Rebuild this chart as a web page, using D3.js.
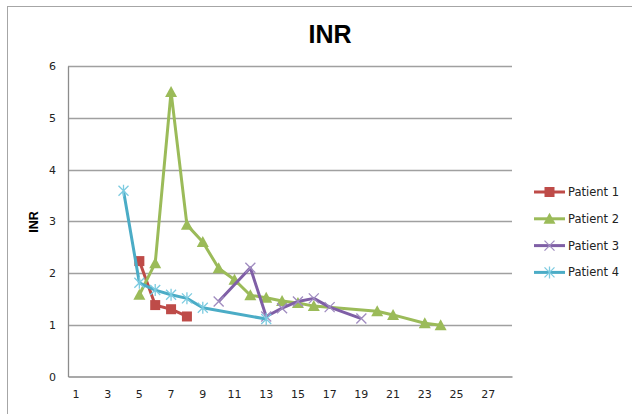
<!DOCTYPE html>
<html>
<head>
<meta charset="utf-8">
<script src="https://cdn.jsdelivr.net/npm/d3@7"></script>
<style>
  body { margin: 0; background: #fff; }
  svg { display: block; }
</style>
</head>
<body>
<div id="chart"></div>
<script>
const days = [1, 2, 3, 4, 5, 6, 7, 8, 9, 10, 11, 12, 13, 14, 15, 16, 17, 18, 19, 20, 21, 22, 23, 24, 25, 26, 27, 28];
const dayLabels = [1, 3, 5, 7, 9, 11, 13, 15, 17, 19, 21, 23, 25, 27];
const inrTicks = [0, 1, 2, 3, 4, 5, 6];

const patient1Days = [5, 6, 7, 8];
const patient1Inr = [2.23, 1.38, 1.30, 1.16];
const patient2Days = [5, 6, 7, 8, 9, 10, 11, 12, 13, 14, 15, 16, 20, 21, 23, 24];
const patient2Inr = [1.58, 2.19, 5.5, 2.93, 2.6, 2.09, 1.87, 1.57, 1.52, 1.46, 1.42, 1.36, 1.26, 1.19, 1.03, 0.99];
const patient3Days = [10, 12, 13, 14, 15, 16, 17, 19];
const patient3Inr = [1.45, 2.1, 1.16, 1.32, 1.45, 1.51, 1.34, 1.12];
const patient4Days = [4, 5, 6, 7, 8, 9, 13];
const patient4Inr = [3.59, 1.81, 1.67, 1.58, 1.51, 1.33, 1.11];

const seriesNames = ["Patient 1", "Patient 2", "Patient 3", "Patient 4"];

const width = 632, height = 414;
const plot = { left: 68, right: 512, top: 66, bottom: 376.5 };

const series = [
  { name: seriesNames[0], color: "#BE4B48", marker: "square", days: patient1Days, inr: patient1Inr },
  { name: seriesNames[1], color: "#9BBB59", marker: "triangle", days: patient2Days, inr: patient2Inr },
  { name: seriesNames[2], color: "#7F5FA6", marker: "cross", days: patient3Days, inr: patient3Inr },
  { name: seriesNames[3], color: "#4BACC6", marker: "star", days: patient4Days, inr: patient4Inr }
];

const svg = d3.select("#chart").append("svg")
  .attr("width", width)
  .attr("height", height);

// chart area border
svg.append("rect")
  .attr("x", 7.5).attr("y", 6.5)
  .attr("width", 700).attr("height", 500)
  .attr("fill", "#fff")
  .attr("stroke", "#A6A6A6");

const x = d3.scaleBand().domain(days).range([plot.left, plot.right]);
const y = d3.scaleLinear().domain([0, 6]).range([plot.bottom, plot.top]);

// gridlines
svg.append("g")
  .selectAll("line")
  .data(inrTicks.filter(d => d > 0))
  .enter()
  .append("line")
  .attr("x1", plot.left).attr("x2", plot.right)
  .attr("y1", d => Math.round(y(d)) + 0.5).attr("y2", d => Math.round(y(d)) + 0.5)
  .attr("stroke", "#A0A0A0")
  .attr("stroke-width", 1.3);

// axes
const yAxis = svg.append("g")
  .attr("transform", `translate(${plot.left},0)`)
  .call(d3.axisLeft(y).tickValues(inrTicks).tickSize(0).tickPadding(12).tickFormat(d3.format("d")));
yAxis.select(".domain").attr("stroke", "#8C8C8C").attr("stroke-width", 1.3);
yAxis.selectAll("text").attr("font-family", "DejaVu Sans").attr("font-size", 11).attr("fill", "#222");

const xAxis = svg.append("g")
  .attr("transform", `translate(0,${plot.bottom})`)
  .call(d3.axisBottom(x).tickValues(dayLabels).tickSize(0).tickPadding(14));
xAxis.select(".domain").attr("stroke", "#8C8C8C").attr("stroke-width", 1.3);
xAxis.selectAll("text").attr("font-family", "DejaVu Sans").attr("font-size", 11).attr("fill", "#222");

// titles
svg.append("text")
  .attr("x", 330).attr("y", 43)
  .attr("text-anchor", "middle")
  .attr("font-family", "Liberation Sans, Arial")
  .attr("font-weight", "bold")
  .attr("font-size", 25)
  .text("INR");

svg.append("text")
  .attr("transform", "translate(38,222) rotate(-90)")
  .attr("text-anchor", "middle")
  .attr("font-family", "Liberation Sans, Arial")
  .attr("font-weight", "bold")
  .attr("font-size", 12.5)
  .text("INR");

function drawMarker(g, type, color, cx, cy) {
  if (type === "square") {
    g.append("rect").attr("x", cx - 5).attr("y", cy - 5).attr("width", 10).attr("height", 10).attr("fill", color);
  } else if (type === "triangle") {
    g.append("path").attr("d", `M${cx},${cy - 6}L${cx + 6},${cy + 5}L${cx - 6},${cy + 5}Z`).attr("fill", color);
  } else if (type === "cross") {
    g.append("path").attr("d", `M${cx - 5},${cy - 5}L${cx + 5},${cy + 5}M${cx - 5},${cy + 5}L${cx + 5},${cy - 5}`)
      .attr("stroke", "#A08CC0").attr("stroke-width", 1.3).attr("fill", "none");
  } else {
    g.append("path").attr("d", `M${cx - 5},${cy - 5}L${cx + 5},${cy + 5}M${cx - 5},${cy + 5}L${cx + 5},${cy - 5}M${cx},${cy - 6}L${cx},${cy + 6}`)
      .attr("stroke", "#7CCBE0").attr("stroke-width", 1.3).attr("fill", "none");
  }
}

const line = d3.line()
  .x(d => x(d[0]) + x.bandwidth() / 2)
  .y(d => y(d[1]));

series.forEach(s => {
  const pts = s.days.map((d, i) => [d, s.inr[i]]);
  const g = svg.append("g");
  g.append("path")
    .attr("d", line(pts))
    .attr("fill", "none")
    .attr("stroke", s.color)
    .attr("stroke-width", 3)
    .attr("stroke-linejoin", "round");
  pts.forEach(p => drawMarker(g, s.marker, s.color, x(p[0]) + x.bandwidth() / 2, y(p[1])));
});

// legend
const legend = svg.append("g");
series.forEach((s, i) => {
  const ly = 192 + i * 26.8;
  legend.append("line")
    .attr("x1", 534).attr("x2", 565)
    .attr("y1", ly).attr("y2", ly)
    .attr("stroke", s.color).attr("stroke-width", 3);
  drawMarker(legend, s.marker, s.color, 549.5, ly);
  legend.append("text")
    .attr("x", 568).attr("y", ly + 4)
    .attr("font-family", "DejaVu Sans")
    .attr("font-size", 11.5)
    .attr("fill", "#222")
    .text(s.name);
});
</script>
</body>
</html>
